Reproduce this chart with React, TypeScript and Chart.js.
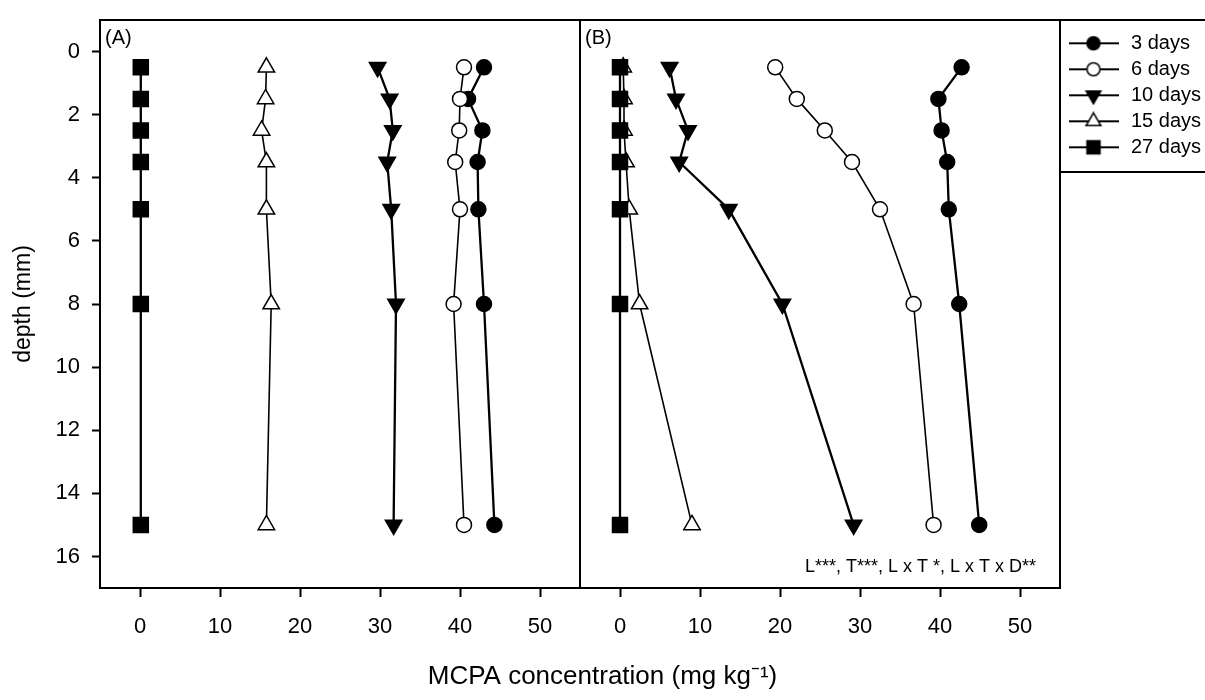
import React, { useEffect, useRef } from 'react';
import { Chart, registerables } from 'chart.js';

Chart.register(...registerables);

// ---------- data ----------
const depths = [0.5, 1.5, 2.5, 3.5, 5, 8, 15];
const seriesNames = ['3 days', '6 days', '10 days', '15 days', '27 days'];

const panelA3 = [43.0, 41.0, 42.8, 42.2, 42.3, 43.0, 44.3];
const panelA6 = [40.5, 40.0, 39.9, 39.4, 40.0, 39.2, 40.5];
const panelA10 = [29.7, 31.2, 31.6, 30.9, 31.4, 32.0, 31.7];
const panelA15 = [15.8, 15.7, 15.2, 15.8, 15.8, 16.4, 15.8];
const panelA27 = [0.1, 0.1, 0.1, 0.1, 0.1, 0.1, 0.1];

const panelB3 = [42.7, 39.8, 40.2, 40.9, 41.1, 42.4, 44.9];
const panelB6 = [19.4, 22.1, 25.6, 29.0, 32.5, 36.7, 39.2];
const panelB10 = [6.2, 7.0, 8.5, 7.4, 13.6, 20.3, 29.2];
const panelB15 = [0.4, 0.5, 0.5, 0.75, 1.15, 2.45, 9.0];
const panelB27 = [0.0, 0.0, 0.0, 0.0, 0.0, 0.0, 0.0];

const yTicks = [0, 2, 4, 6, 8, 10, 12, 14, 16];
const xTicks = [0, 10, 20, 30, 40, 50];
const panelLabels = ['(A)', '(B)'];
const annotation = 'L***, T***, L x T *, L x T x D**';
const yTitle = 'depth (mm)';
const xTitle = 'MCPA concentration (mg kg\u207B\u00B9)';

// ---------- styles ----------
const FONT = "'Liberation Sans', Arial, Helvetica, sans-serif";
const markerStyles = [
  { style: 'circle', fill: '#000000', radius: 7.5, rotation: 0, line: 2.3 },
  { style: 'circle', fill: '#ffffff', radius: 7.5, rotation: 0, line: 1.6 },
  { style: 'triangle', fill: '#000000', radius: 9.5, rotation: 180, line: 2.3 },
  { style: 'triangle', fill: '#ffffff', radius: 9.5, rotation: 0, line: 1.6 },
  { style: 'rect', fill: '#000000', radius: 10.6, rotation: 0, line: 2.3 },
];

function makeLegendImage(m: any): HTMLCanvasElement {
  const c = document.createElement('canvas');
  c.width = 50;
  c.height = 20;
  const g = c.getContext('2d')!;
  g.strokeStyle = '#000';
  g.lineWidth = 2;
  g.beginPath();
  g.moveTo(0, 10);
  g.lineTo(50, 10);
  g.stroke();
  g.fillStyle = m.fill;
  g.lineWidth = 1.5;
  g.beginPath();
  const cx = 25, cy = 10;
  if (m.style === 'circle') {
    g.arc(cx, cy, 6.5, 0, Math.PI * 2);
  } else if (m.style === 'rect') {
    g.rect(cx - 6.5, cy - 6.5, 13, 13);
  } else {
    const r = 8.5;
    let rad = (m.rotation * Math.PI) / 180;
    g.moveTo(cx + Math.sin(rad) * r, cy - Math.cos(rad) * r);
    rad += (2 * Math.PI) / 3;
    g.lineTo(cx + Math.sin(rad) * r, cy - Math.cos(rad) * r);
    rad += (2 * Math.PI) / 3;
    g.lineTo(cx + Math.sin(rad) * r, cy - Math.cos(rad) * r);
    g.closePath();
  }
  g.fill();
  g.stroke();
  return c;
}

const framePlugin = {
  id: 'panelFrame',
  afterDraw(chart: any) {
    const { ctx, chartArea } = chart;
    const xA = chart.scales.xA;
    const xB = chart.scales.xB;
    ctx.save();
    ctx.strokeStyle = '#000';
    ctx.lineWidth = 2;
    ctx.beginPath();
    ctx.moveTo(chartArea.left, chartArea.top);
    ctx.lineTo(chart.width, chartArea.top);
    ctx.moveTo(xA.right, chartArea.top);
    ctx.lineTo(xA.right, chartArea.bottom);
    ctx.moveTo(xB.right, chartArea.top);
    ctx.lineTo(xB.right, chartArea.bottom);
    const hb = chart.legend.legendHitBoxes;
    const last = hb[hb.length - 1];
    const ly = Math.round(last.top + last.height + 15);
    ctx.moveTo(xB.right, ly);
    ctx.lineTo(chart.width, ly);
    ctx.stroke();

    ctx.fillStyle = '#000';
    ctx.font = `20px ${FONT}`;
    ctx.textAlign = 'left';
    ctx.textBaseline = 'middle';
    ctx.fillText(panelLabels[0], xA.left + 5, chartArea.top + 18);
    ctx.fillText(panelLabels[1], xB.left + 5, chartArea.top + 18);

    ctx.font = `18px ${FONT}`;
    ctx.textAlign = 'right';
    ctx.textBaseline = 'alphabetic';
    ctx.fillText(annotation, xB.right - 24, chartArea.bottom - 16);
    ctx.restore();
  },
};

function xAxis() {
  return {
    type: 'linear',
    position: 'bottom',
    stack: 'panels',
    stackWeight: 1,
    min: -5,
    max: 55,
    afterBuildTicks: (s: any) => {
      s.ticks = xTicks.map((v) => ({ value: v }));
    },
    afterFit: (s: any) => {
      s.height = 72.9;
      s.paddingLeft = 0;
      s.paddingRight = 0;
    },
    grid: { drawOnChartArea: false, drawTicks: true, tickLength: 9, tickWidth: 2, tickColor: '#000' },
    border: { display: true, color: '#000', width: 2 },
    ticks: { color: '#000', font: { size: 22, family: FONT }, padding: 17, maxRotation: 0 },
  };
}

export default function App() {
  const ref = useRef<HTMLCanvasElement>(null);

  useEffect(() => {
    const canvas = ref.current;
    if (!canvas) return;
    const panelA = [panelA3, panelA6, panelA10, panelA15, panelA27];
    const panelB = [panelB3, panelB6, panelB10, panelB15, panelB27];
    const datasets: any[] = [];
    [panelA, panelB].forEach((panel, p) => {
      panel.forEach((vals, i) => {
        const m = markerStyles[i];
        datasets.push({
          label: seriesNames[i],
          data: depths.map((d, j) => ({ x: vals[j], y: d })),
          xAxisID: p === 0 ? 'xA' : 'xB',
          yAxisID: 'y',
          showLine: true,
          borderColor: '#000',
          borderWidth: m.line,
          tension: 0,
          pointStyle: m.style,
          pointRadius: m.radius,
          pointRotation: m.rotation,
          pointBackgroundColor: m.fill,
          pointBorderColor: '#000',
          pointBorderWidth: 1.5,
          order: 4 - i,
        });
      });
    });
    const legendImages = markerStyles.map(makeLegendImage);

    const chart = new Chart(canvas, {
      type: 'scatter',
      data: { datasets },
      options: {
        animation: false,
        responsive: false,
        events: [],
        layout: { padding: { top: 20, bottom: 7.9, left: 0, right: 0 } },
        scales: {
          xA: xAxis(),
          xB: xAxis(),
          y: {
            type: 'linear',
            position: 'left',
            reverse: true,
            min: -1,
            max: 17,
            afterBuildTicks: (s: any) => {
              s.ticks = yTicks.map((v) => ({ value: v }));
            },
            afterFit: (s: any) => {
              s.width = 100;
              s.paddingTop = 0;
              s.paddingBottom = 0;
            },
            grid: { drawOnChartArea: false, drawTicks: true, tickLength: 8, tickWidth: 2, tickColor: '#000' },
            border: { display: true, color: '#000', width: 2 },
            ticks: { color: '#000', font: { size: 22, family: FONT }, padding: 12 },
            title: {
              display: true,
              text: yTitle,
              color: '#000',
              font: { size: 23, family: FONT },
              padding: { top: 10, bottom: 0 },
            },
          },
        } as any,
        plugins: {
          tooltip: { enabled: false },
          title: {
            display: true,
            position: 'bottom',
            text: xTitle,
            color: '#000',
            font: { size: 26, family: FONT, weight: 'normal' },
            padding: 0,
          },
          legend: {
            display: true,
            position: 'right',
            align: 'start',
            maxWidth: 145,
            title: { display: true, text: '', font: { size: 1, lineHeight: 1 }, padding: { top: 6.3, bottom: 0 } },
            labels: {
              usePointStyle: true,
              pointStyleWidth: 55,
              padding: 6,
              color: '#000',
              font: { size: 20, family: FONT },
              generateLabels: () =>
                seriesNames.map((name, i) => ({
                  text: name,
                  pointStyle: legendImages[i],
                  fillStyle: '#000',
                  strokeStyle: '#000',
                  lineWidth: 0,
                  hidden: false,
                  datasetIndex: i,
                  fontColor: '#000',
                })),
            },
          },
        } as any,
      },
      plugins: [framePlugin],
    } as any);
    return () => chart.destroy();
  }, []);

  return (
    <div style={{ position: 'absolute', left: 0, top: 0, width: 1205, height: 700, background: '#fff' }}>
      <canvas ref={ref} width={1205} height={700} style={{ display: 'block', width: 1205, height: 700 }} />
    </div>
  );
}
